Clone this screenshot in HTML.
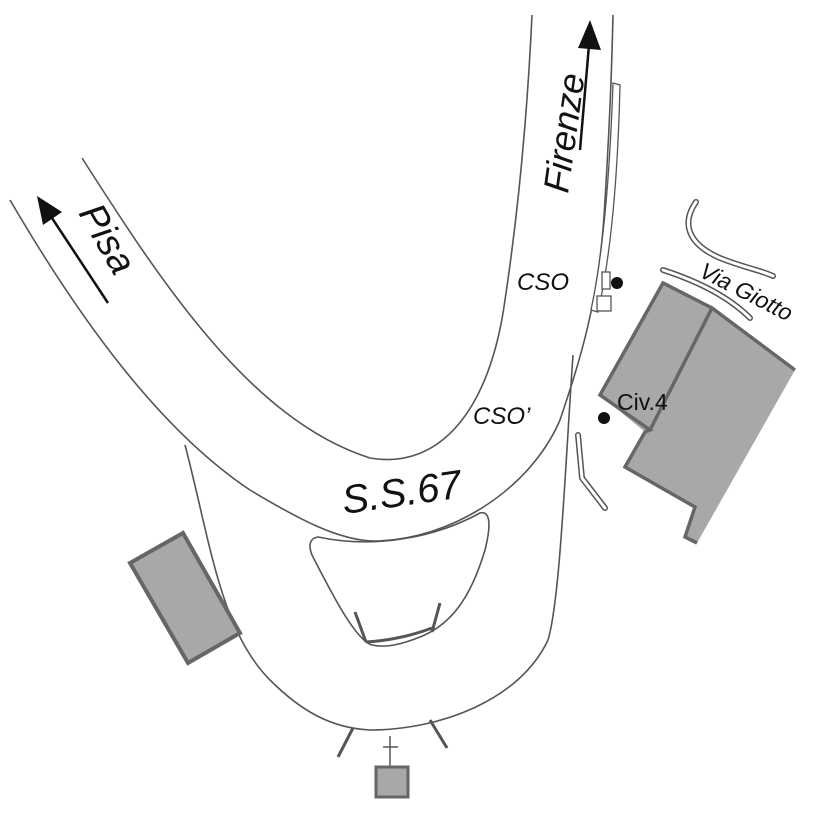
<!DOCTYPE html>
<html><head><style>html,body{margin:0;padding:0;background:#fff}</style></head><body>
<svg width="826" height="826" viewBox="0 0 826 826" xmlns="http://www.w3.org/2000/svg" font-family="Liberation Sans, sans-serif">
<g fill="none" stroke="#555" stroke-width="1.6">
<path d="M82,158 C160,280 250,420 370,458 C440,470 490,410 505,300 C520,200 528,100 532,15"/>
<path d="M10,200 C80,320 160,430 250,490 C300,520 340,541 375,541 C450,540 530,490 560,420 C580,360 600,300 605,200 C610,120 612,60 613,15"/>
<path d="M185,445 C210,540 220,630 270,680 C300,710 330,728 370,730 C440,730 520,700 548,640 C560,600 565,470 573,355"/>
<path d="M318,537 C380,550 440,535 480,513 C492,510 490,530 485,550 C470,600 450,625 420,637 C400,645 385,648 372,645 C355,640 330,590 312,555 C308,545 310,538 318,537 Z"/>
</g>
<g stroke="#555" stroke-width="3" fill="none" stroke-linecap="butt">
<path d="M355,612 L366,642"/><path d="M440,603 L432,632"/>
<path d="M338,757 L353,728"/><path d="M447,748 L430,720"/>
<path d="M366,642 Q400,640 432,628"/>
</g>
<g stroke="#555" stroke-width="1.5"><path d="M390,736 V768 M383,747 H398"/></g>
<rect x="376" y="767" width="32" height="30" fill="#a8a8a8" stroke="#666" stroke-width="3"/>
<polygon points="130,563 183,533 240,633 188,663" fill="#a8a8a8" stroke="#666" stroke-width="4"/>
<polygon points="663,283 712,308 795,370 697,543 685,537 695,507 625,467 645,432 600,395" fill="#a8a8a8" stroke="none"/>
<polyline points="795,370 712,308 663,283 600,395 650,430 645,432 625,467 695,507 685,537 697,543" fill="none" stroke="#666" stroke-width="3.5"/>
<line x1="712" y1="308" x2="650" y2="430" stroke="#666" stroke-width="3.5"/>
<g fill="none" stroke-linecap="round">
<g stroke="#555" stroke-width="6">
<path d="M696,202 C680,225 690,245 720,258 C745,268 760,270 773,276"/>
<path d="M663,270 C700,282 730,298 750,318"/>
<path d="M578,435 L582,478 L605,508"/>
</g>
<g stroke="#fff" stroke-width="3">
<path d="M696,202 C680,225 690,245 720,258 C745,268 760,270 773,276"/>
<path d="M663,270 C700,282 730,298 750,318"/>
<path d="M578,435 L582,478 L605,508"/>
</g>
</g>
<path d="M613,83 L620,85 C618,170 612,250 598,312 L591,310 C604,250 610,170 613,83 Z" fill="#fff" stroke="#555" stroke-width="1.3"/>
<rect x="602" y="272" width="8" height="17" fill="#fff" stroke="#555" stroke-width="1.3"/>
<rect x="597" y="296" width="14" height="15" fill="#fff" stroke="#555" stroke-width="1.3"/>
<circle cx="617" cy="283" r="6" fill="#111"/>
<circle cx="604" cy="418" r="6" fill="#111"/>
<line x1="580" y1="150" x2="589" y2="45" stroke="#111" stroke-width="2.5"/>
<polygon points="590,20 601,50 578,48" fill="#111"/>
<line x1="108" y1="303" x2="50" y2="215" stroke="#111" stroke-width="2.5"/>
<polygon points="37,196 62,212 43,225" fill="#111"/>
<g fill="#111" font-style="italic">
<text transform="translate(568,194) rotate(-82)" font-size="36">Firenze</text>
<text transform="translate(78,213) rotate(60)" font-size="38">Pisa</text>
<text x="517" y="290" font-size="24">CSO</text>
<text x="473" y="424" font-size="24">CSO’</text>
<text transform="translate(344,514) rotate(-8)" font-size="40">S.S.67</text>
<text transform="translate(698,276) rotate(27)" font-size="23">Via Giotto</text>
</g>
<text x="617" y="410" font-size="23" fill="#111">Civ.4</text>
</svg>
</body></html>
